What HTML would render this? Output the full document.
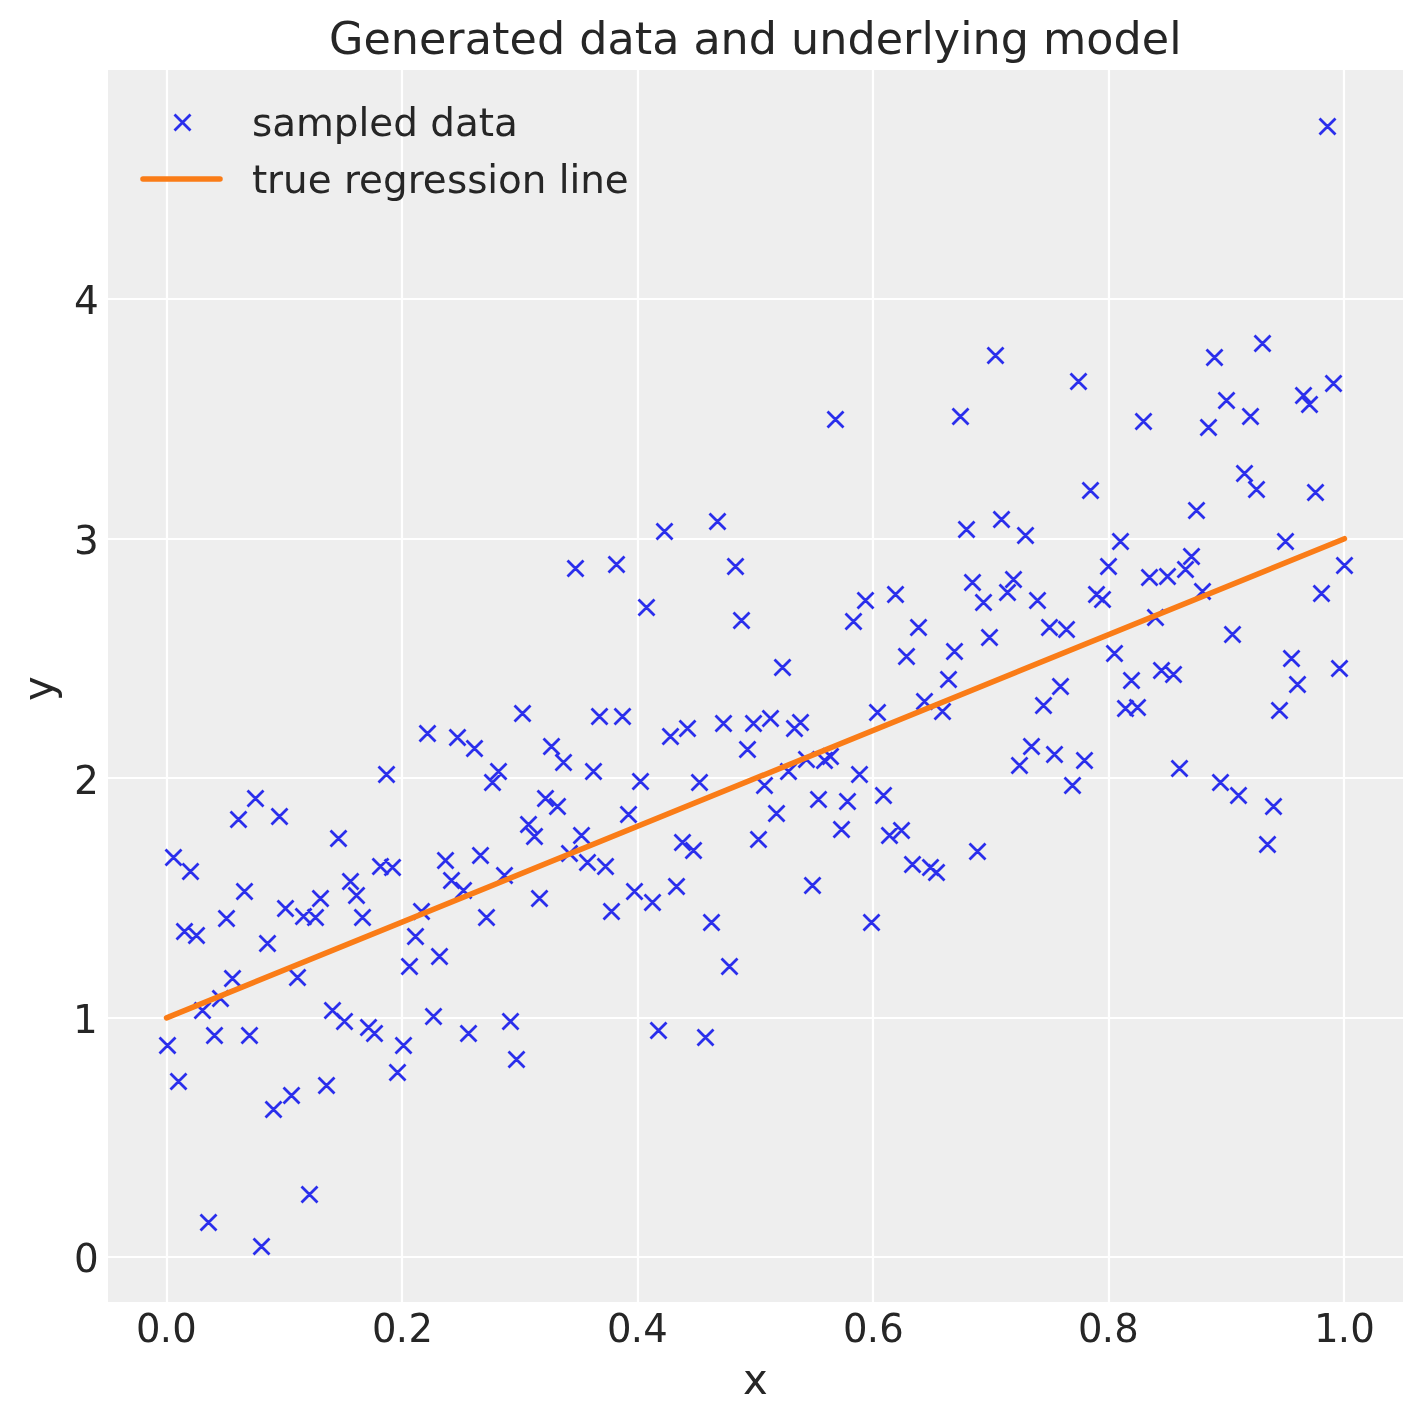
<!DOCTYPE html>
<html><head><meta charset="utf-8"><title>Generated data and underlying model</title>
<style>html,body{margin:0;padding:0;background:#fff;width:1423px;height:1423px;overflow:hidden}svg{display:block;will-change:transform}text{font-family:"DejaVu Sans","Liberation Sans",sans-serif;fill:#262626}</style></head><body>
<svg width="1423" height="1423" viewBox="0 0 1423 1423">
<rect width="1423" height="1423" fill="#fff"/>
<rect x="108" y="70" width="1295" height="1232" fill="#eeeeee"/>
<path d="M167 70V1302M402 70V1302M638 70V1302M873 70V1302M1109 70V1302M1344 70V1302M108 1257H1403M108 1018H1403M108 778H1403M108 539H1403M108 299H1403" stroke="#fff" stroke-width="2.222" fill="none"/>
<path d="M159.5 1037.5l16 16m-16 0l16-16M165.5 849.5l16 16m-16 0l16-16M170.5 1073.5l16 16m-16 0l16-16M176.5 923.5l16 16m-16 0l16-16M182.5 863.5l16 16m-16 0l16-16M188.5 927.5l16 16m-16 0l16-16M194.5 1002.5l16 16m-16 0l16-16M200.5 1214.5l16 16m-16 0l16-16M206.5 1027.5l16 16m-16 0l16-16M212.5 990.5l16 16m-16 0l16-16M218.5 910.5l16 16m-16 0l16-16M224.5 970.5l16 16m-16 0l16-16M230.5 811.5l16 16m-16 0l16-16M236.5 883.5l16 16m-16 0l16-16M241.5 1027.5l16 16m-16 0l16-16M247.5 790.5l16 16m-16 0l16-16M253.5 1238.5l16 16m-16 0l16-16M259.5 935.5l16 16m-16 0l16-16M265.5 1101.5l16 16m-16 0l16-16M271.5 808.5l16 16m-16 0l16-16M277.5 900.5l16 16m-16 0l16-16M283.5 1087.5l16 16m-16 0l16-16M289.5 969.5l16 16m-16 0l16-16M295.5 908.5l16 16m-16 0l16-16M301.5 1186.5l16 16m-16 0l16-16M307.5 909.5l16 16m-16 0l16-16M312.5 890.5l16 16m-16 0l16-16M318.5 1077.5l16 16m-16 0l16-16M324.5 1002.5l16 16m-16 0l16-16M330.5 830.5l16 16m-16 0l16-16M336.5 1013.5l16 16m-16 0l16-16M342.5 873.5l16 16m-16 0l16-16M348.5 887.5l16 16m-16 0l16-16M354.5 909.5l16 16m-16 0l16-16M360.5 1019.5l16 16m-16 0l16-16M366.5 1025.5l16 16m-16 0l16-16M372.5 858.5l16 16m-16 0l16-16M378.5 766.5l16 16m-16 0l16-16M384.5 859.5l16 16m-16 0l16-16M389.5 1064.5l16 16m-16 0l16-16M395.5 1037.5l16 16m-16 0l16-16M401.5 958.5l16 16m-16 0l16-16M407.5 928.5l16 16m-16 0l16-16M413.5 903.5l16 16m-16 0l16-16M419.5 725.5l16 16m-16 0l16-16M425.5 1008.5l16 16m-16 0l16-16M431.5 948.5l16 16m-16 0l16-16M437.5 852.5l16 16m-16 0l16-16M443.5 872.5l16 16m-16 0l16-16M449.5 729.5l16 16m-16 0l16-16M455.5 882.5l16 16m-16 0l16-16M460.5 1025.5l16 16m-16 0l16-16M466.5 740.5l16 16m-16 0l16-16M472.5 847.5l16 16m-16 0l16-16M478.5 909.5l16 16m-16 0l16-16M484.5 774.5l16 16m-16 0l16-16M490.5 763.5l16 16m-16 0l16-16M496.5 867.5l16 16m-16 0l16-16M502.5 1013.5l16 16m-16 0l16-16M508.5 1051.5l16 16m-16 0l16-16M514.5 705.5l16 16m-16 0l16-16M520.5 816.5l16 16m-16 0l16-16M526.5 828.5l16 16m-16 0l16-16M531.5 890.5l16 16m-16 0l16-16M537.5 790.5l16 16m-16 0l16-16M543.5 738.5l16 16m-16 0l16-16M549.5 798.5l16 16m-16 0l16-16M555.5 754.5l16 16m-16 0l16-16M561.5 845.5l16 16m-16 0l16-16M567.5 560.5l16 16m-16 0l16-16M573.5 827.5l16 16m-16 0l16-16M579.5 854.5l16 16m-16 0l16-16M585.5 763.5l16 16m-16 0l16-16M591.5 708.5l16 16m-16 0l16-16M597.5 858.5l16 16m-16 0l16-16M603.5 903.5l16 16m-16 0l16-16M608.5 556.5l16 16m-16 0l16-16M614.5 708.5l16 16m-16 0l16-16M620.5 806.5l16 16m-16 0l16-16M626.5 883.5l16 16m-16 0l16-16M632.5 773.5l16 16m-16 0l16-16M638.5 599.5l16 16m-16 0l16-16M644.5 894.5l16 16m-16 0l16-16M650.5 1022.5l16 16m-16 0l16-16M656.5 523.5l16 16m-16 0l16-16M662.5 728.5l16 16m-16 0l16-16M668.5 878.5l16 16m-16 0l16-16M674.5 834.5l16 16m-16 0l16-16M679.5 720.5l16 16m-16 0l16-16M685.5 842.5l16 16m-16 0l16-16M691.5 774.5l16 16m-16 0l16-16M697.5 1029.5l16 16m-16 0l16-16M703.5 914.5l16 16m-16 0l16-16M709.5 513.5l16 16m-16 0l16-16M715.5 715.5l16 16m-16 0l16-16M721.5 958.5l16 16m-16 0l16-16M727.5 558.5l16 16m-16 0l16-16M733.5 612.5l16 16m-16 0l16-16M739.5 741.5l16 16m-16 0l16-16M745.5 715.5l16 16m-16 0l16-16M750.5 831.5l16 16m-16 0l16-16M756.5 777.5l16 16m-16 0l16-16M762.5 710.5l16 16m-16 0l16-16M768.5 805.5l16 16m-16 0l16-16M774.5 659.5l16 16m-16 0l16-16M780.5 763.5l16 16m-16 0l16-16M786.5 720.5l16 16m-16 0l16-16M792.5 714.5l16 16m-16 0l16-16M798.5 751.5l16 16m-16 0l16-16M804.5 877.5l16 16m-16 0l16-16M810.5 791.5l16 16m-16 0l16-16M816.5 752.5l16 16m-16 0l16-16M822.5 748.5l16 16m-16 0l16-16M827.5 411.5l16 16m-16 0l16-16M833.5 821.5l16 16m-16 0l16-16M839.5 793.5l16 16m-16 0l16-16M845.5 613.5l16 16m-16 0l16-16M851.5 766.5l16 16m-16 0l16-16M857.5 592.5l16 16m-16 0l16-16M863.5 914.5l16 16m-16 0l16-16M869.5 704.5l16 16m-16 0l16-16M875.5 787.5l16 16m-16 0l16-16M881.5 827.5l16 16m-16 0l16-16M887.5 586.5l16 16m-16 0l16-16M893.5 822.5l16 16m-16 0l16-16M898.5 648.5l16 16m-16 0l16-16M904.5 856.5l16 16m-16 0l16-16M910.5 619.5l16 16m-16 0l16-16M916.5 693.5l16 16m-16 0l16-16M922.5 859.5l16 16m-16 0l16-16M928.5 864.5l16 16m-16 0l16-16M934.5 703.5l16 16m-16 0l16-16M940.5 671.5l16 16m-16 0l16-16M946.5 643.5l16 16m-16 0l16-16M952.5 408.5l16 16m-16 0l16-16M958.5 521.5l16 16m-16 0l16-16M964.5 574.5l16 16m-16 0l16-16M969.5 843.5l16 16m-16 0l16-16M975.5 594.5l16 16m-16 0l16-16M981.5 629.5l16 16m-16 0l16-16M987.5 347.5l16 16m-16 0l16-16M993.5 511.5l16 16m-16 0l16-16M999.5 584.5l16 16m-16 0l16-16M1005.5 571.5l16 16m-16 0l16-16M1011.5 757.5l16 16m-16 0l16-16M1017.5 527.5l16 16m-16 0l16-16M1023.5 738.5l16 16m-16 0l16-16M1029.5 592.5l16 16m-16 0l16-16M1035.5 697.5l16 16m-16 0l16-16M1041.5 619.5l16 16m-16 0l16-16M1046.5 746.5l16 16m-16 0l16-16M1052.5 678.5l16 16m-16 0l16-16M1058.5 621.5l16 16m-16 0l16-16M1064.5 777.5l16 16m-16 0l16-16M1070.5 373.5l16 16m-16 0l16-16M1076.5 752.5l16 16m-16 0l16-16M1082.5 482.5l16 16m-16 0l16-16M1088.5 586.5l16 16m-16 0l16-16M1094.5 591.5l16 16m-16 0l16-16M1100.5 558.5l16 16m-16 0l16-16M1106.5 645.5l16 16m-16 0l16-16M1112.5 533.5l16 16m-16 0l16-16M1117.5 700.5l16 16m-16 0l16-16M1123.5 672.5l16 16m-16 0l16-16M1129.5 699.5l16 16m-16 0l16-16M1135.5 413.5l16 16m-16 0l16-16M1141.5 569.5l16 16m-16 0l16-16M1147.5 609.5l16 16m-16 0l16-16M1153.5 662.5l16 16m-16 0l16-16M1159.5 568.5l16 16m-16 0l16-16M1165.5 666.5l16 16m-16 0l16-16M1171.5 760.5l16 16m-16 0l16-16M1177.5 561.5l16 16m-16 0l16-16M1183.5 548.5l16 16m-16 0l16-16M1188.5 502.5l16 16m-16 0l16-16M1194.5 583.5l16 16m-16 0l16-16M1200.5 419.5l16 16m-16 0l16-16M1206.5 349.5l16 16m-16 0l16-16M1212.5 774.5l16 16m-16 0l16-16M1218.5 392.5l16 16m-16 0l16-16M1224.5 626.5l16 16m-16 0l16-16M1230.5 787.5l16 16m-16 0l16-16M1236.5 465.5l16 16m-16 0l16-16M1242.5 408.5l16 16m-16 0l16-16M1248.5 481.5l16 16m-16 0l16-16M1254.5 335.5l16 16m-16 0l16-16M1259.5 836.5l16 16m-16 0l16-16M1265.5 798.5l16 16m-16 0l16-16M1271.5 702.5l16 16m-16 0l16-16M1277.5 533.5l16 16m-16 0l16-16M1283.5 650.5l16 16m-16 0l16-16M1289.5 676.5l16 16m-16 0l16-16M1295.5 387.5l16 16m-16 0l16-16M1301.5 396.5l16 16m-16 0l16-16M1307.5 484.5l16 16m-16 0l16-16M1313.5 585.5l16 16m-16 0l16-16M1319.5 118.5l16 16m-16 0l16-16M1325.5 375.5l16 16m-16 0l16-16M1331.5 660.5l16 16m-16 0l16-16M1336.5 557.5l16 16m-16 0l16-16" stroke="#2a2eec" stroke-width="2.778" fill="none"/>
<path d="M166.6 1017.88L1344.44 538.711" stroke="#fa7c17" stroke-width="5.556" stroke-linecap="round" fill="none"/>
<path d="M174.5 114.5l16 16m-16 0l16-16" stroke="#2a2eec" stroke-width="2.778" fill="none"/>
<path d="M143 179H220" stroke="#fa7c17" stroke-width="5.556" stroke-linecap="round" fill="none"/>
<text x="328.978 363.478 390.728 418.978 446.228 464.728 491.978 509.478 536.978 565.228 579.228 607.478 634.728 652.228 679.478 693.478 720.478 748.728 777.103 790.978 819.228 847.478 875.728 902.978 921.478 933.728 960.228 972.478 1000.728 1028.978 1042.978 1086.228 1113.478 1141.728 1169.228" y="53.667" font-size="44.444">Generated data and underlying model</text>
<text x="755.255" y="1393.739" font-size="41.817" text-anchor="middle">x</text>
<text transform="translate(52.561 688.644) rotate(-90)" font-size="41.817" text-anchor="middle">y</text>
<text x="251.984 272.234 295.984 333.734 358.484 369.234 393.234 417.859 430.234 454.984 478.734 493.984" y="135.527" font-size="38.889">sampled data</text>
<text x="251.988 266.988 282.988 307.738 331.613 343.988 358.988 382.988 407.738 422.738 446.988 467.238 487.238 497.988 521.738 546.363 558.738 569.488 580.238 604.738" y="192.524" font-size="38.889">true regression line</text>
<text x="135.897 159.658 172.164" y="1341.677" font-size="38.514">0.0</text>
<text x="371.937 395.698 408.454" y="1341.508" font-size="38.514">0.2</text>
<text x="606.907 630.716 643.245" y="1341.714" font-size="38.589">0.4</text>
<text x="842.949 866.633 879.163" y="1341.57" font-size="38.589">0.6</text>
<text x="1077.94 1101.701 1114.207" y="1341.709" font-size="38.514">0.8</text>
<text x="1313.998 1337.652 1350.229" y="1341.661" font-size="38.739">1.0</text>
<text x="98.703" y="1271.55" font-size="38.889" text-anchor="end">0</text>
<text x="97.661" y="1032.645" font-size="38.889" text-anchor="end">1</text>
<text x="98.912" y="793.56" font-size="39.189" text-anchor="end">2</text>
<text x="98.667" y="553.739" font-size="38.889" text-anchor="end">3</text>
<text x="98.778" y="313.508" font-size="39.039" text-anchor="end">4</text>
</svg></body></html>
